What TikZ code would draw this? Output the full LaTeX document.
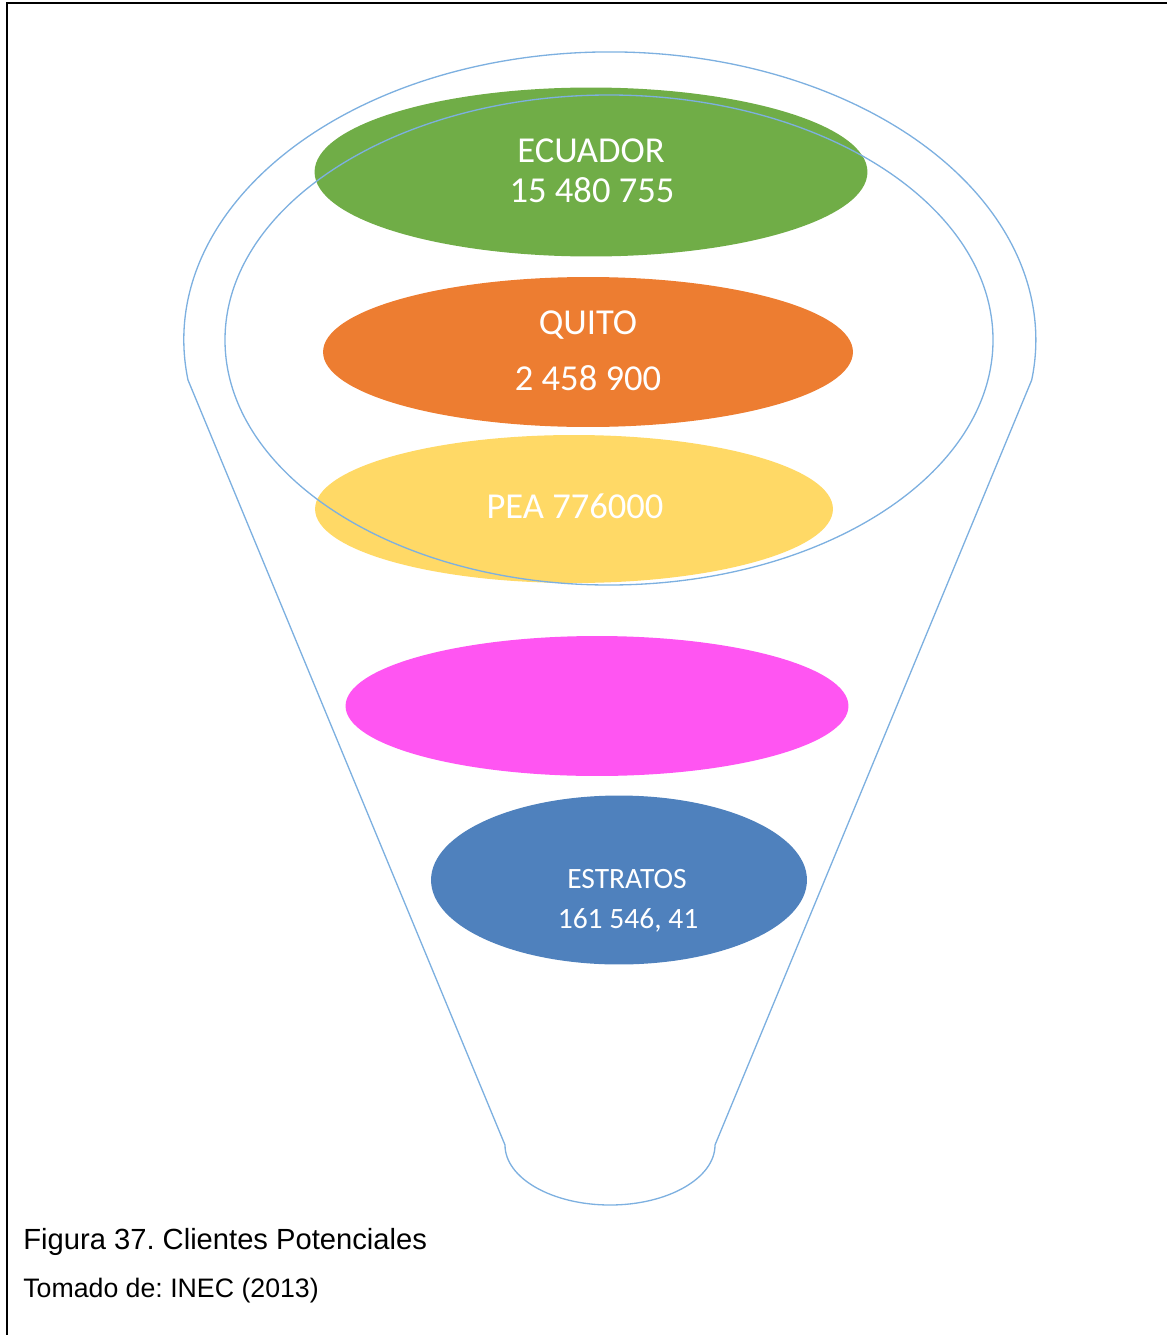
\documentclass[tikz,border=0pt]{standalone}
\usepackage{fontspec}
\setmainfont{Liberation Sans}
\newfontfamily\labelfont{Carlito}
\usetikzlibrary{shapes.geometric}
\frenchspacing

\definecolor{ecuadorgreen}{HTML}{70AD47}
\definecolor{quitoorange}{HTML}{ED7D31}
\definecolor{peayellow}{HTML}{FFD966}
\definecolor{segmagenta}{HTML}{FF55F2}
\definecolor{estratosblue}{HTML}{4F81BD}
\definecolor{funnelline}{HTML}{7DB0E0}

\tikzset{
  layer/.style={ellipse, draw=none, inner sep=0pt},
  bigtxt/.style={text=white, anchor=base, inner sep=0pt, font=\labelfont\fontsize{20.8}{24}\selectfont},
  smalltxt/.style={text=white, anchor=base, inner sep=0pt, font=\labelfont\fontsize{16.8}{20}\selectfont},
  outline/.style={draw=funnelline, line width=0.75pt},
  caption/.style={anchor=base west, inner sep=0pt, text=black},
}

\begin{document}
\begin{tikzpicture}[x=0.02cm, y=-0.02cm]
  \useasboundingbox (0,0) rectangle (1167,1335);

  % page frame (left and top edges)
  \draw[line width=1pt] (7,1335) -- (7,3) -- (1167,3);

  % coloured layers of the funnel
  \node[layer, fill=ecuadorgreen, minimum width=11.06cm, minimum height=3.38cm] (ecuador) at (591,172) {};
  \node[layer, fill=quitoorange, minimum width=10.6cm, minimum height=3.0cm] (quito) at (588,352) {};
  \node[layer, fill=peayellow, minimum width=10.36cm, minimum height=2.96cm] (pea) at (574,509) {};
  \node[layer, fill=segmagenta, minimum width=10.06cm, minimum height=2.8cm] (segment) at (597,706) {};
  \node[layer, fill=estratosblue, minimum width=7.52cm, minimum height=3.38cm] (estratos) at (619,880) {};

  % funnel body: rim arc, straight sides and rounded spout
  \draw[outline] (505,1145) -- (188,380)
    arc[start angle=172, end angle=368, x radius=426, y radius=288]
    -- (715,1145)
    arc[start angle=0, end angle=180, x radius=105, y radius=60] -- cycle;
  % inner rim of the funnel
  \draw[outline] (609,340) ellipse[x radius=384, y radius=245];

  % layer labels
  \node[bigtxt] (ecuadorA) at (591,162) {ECUADOR};
  \node[bigtxt] (ecuadorB) at (592,202) {15 480 755};
  \node[bigtxt] (quitoA) at (588,334) {QUITO};
  \node[bigtxt] (quitoB) at (588,390) {2 458 900};
  \node[bigtxt] (peaA) at (575,518) {PEA 776000};
  \node[smalltxt] (estratosA) at (627,888) {ESTRATOS};
  \node[smalltxt] (estratosB) at (628,928) {161 546, 41};

  % caption
  \node[caption, font=\fontsize{16.6}{20}\selectfont] (fig) at (23,1249) {Figura 37. Clientes Potenciales};
  \node[caption, font=\fontsize{15.2}{18}\selectfont] (src) at (23,1297) {Tomado de: INEC (2013)};
\end{tikzpicture}
\end{document}
